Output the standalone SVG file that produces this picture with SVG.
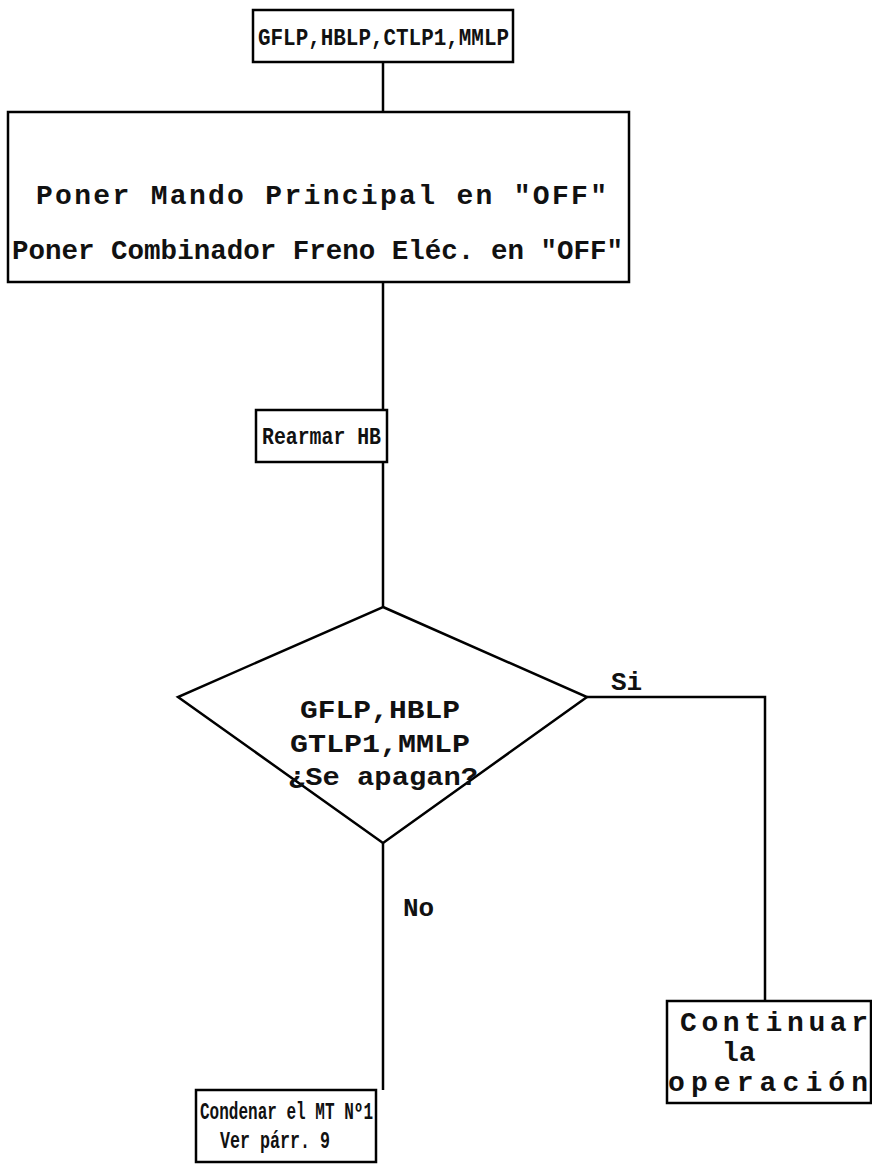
<svg xmlns="http://www.w3.org/2000/svg" width="872" height="1175" viewBox="0 0 872 1175">
<style>
.b{fill:none;stroke:#000;stroke-width:2.5}
.c{fill:none;stroke:#000;stroke-width:2.5}
.t{font-family:"Liberation Mono","DejaVu Sans Mono",monospace;font-weight:bold;font-size:24px;fill:#111}
</style>
<rect width="872" height="1175" fill="#fff"/>
<g id="connectors">
<line class="c" x1="383" y1="62" x2="383" y2="112"/>
<line class="c" x1="383" y1="282" x2="383" y2="410"/>
<line class="c" x1="383" y1="462" x2="383" y2="607"/>
<polyline class="c" points="587,697 765,697 765,1001"/>
<line class="c" x1="383" y1="843" x2="383" y2="1090"/>
<text class="t" x="611" y="690" style="font-size:26px">Si</text>
<text class="t" x="403" y="916" style="font-size:26px">No</text>
</g>
<g id="n1">
<rect class="b" x="253" y="10" width="260" height="52"/>
<text class="t" x="258" y="45" style="font-size:23px" textLength="251" lengthAdjust="spacingAndGlyphs">GFLP,HBLP,CTLP1,MMLP</text>
</g>
<g id="n2">
<rect class="b" x="8" y="112" width="621" height="170"/>
<text class="t" x="36" y="204" style="font-size:28px" textLength="571">Poner Mando Principal en "OFF"</text>
<text class="t" x="12" y="259" style="font-size:28px" textLength="611" lengthAdjust="spacingAndGlyphs">Poner Combinador Freno Eléc. en "OFF"</text>
</g>
<g id="n3">
<rect class="b" x="256" y="410" width="131" height="52"/>
<text class="t" x="262" y="444" style="font-size:23px" textLength="119" lengthAdjust="spacingAndGlyphs">Rearmar HB</text>
</g>
<g id="n4">
<polygon class="b" points="383,607 587,697 383,843 178,697"/>
<text class="t" x="300" y="718" style="font-size:25px" textLength="160" lengthAdjust="spacingAndGlyphs">GFLP,HBLP</text>
<text class="t" x="290" y="752" style="font-size:25px" textLength="180" lengthAdjust="spacingAndGlyphs">GTLP1,MMLP</text>
<text class="t" x="288" y="785" style="font-size:25px" textLength="190" lengthAdjust="spacingAndGlyphs">¿Se apagan?</text>
</g>
<g id="n5">
<rect class="b" x="667" y="1001" width="204" height="102"/>
<text class="t" x="680" y="1031" style="font-size:28px" textLength="188">Continuar</text>
<text class="t" x="722" y="1061" style="font-size:28px">la</text>
<text class="t" x="668" y="1091" style="font-size:28px" textLength="200">operación</text>
</g>
<g id="n6">
<rect class="b" x="196" y="1090" width="180" height="72"/>
<text class="t" x="200" y="1119" style="font-size:23px" textLength="173" lengthAdjust="spacingAndGlyphs">Condenar el MT Nº1</text>
<text class="t" x="220" y="1148" style="font-size:23px" textLength="110" lengthAdjust="spacingAndGlyphs">Ver párr. 9</text>
</g>
</svg>
